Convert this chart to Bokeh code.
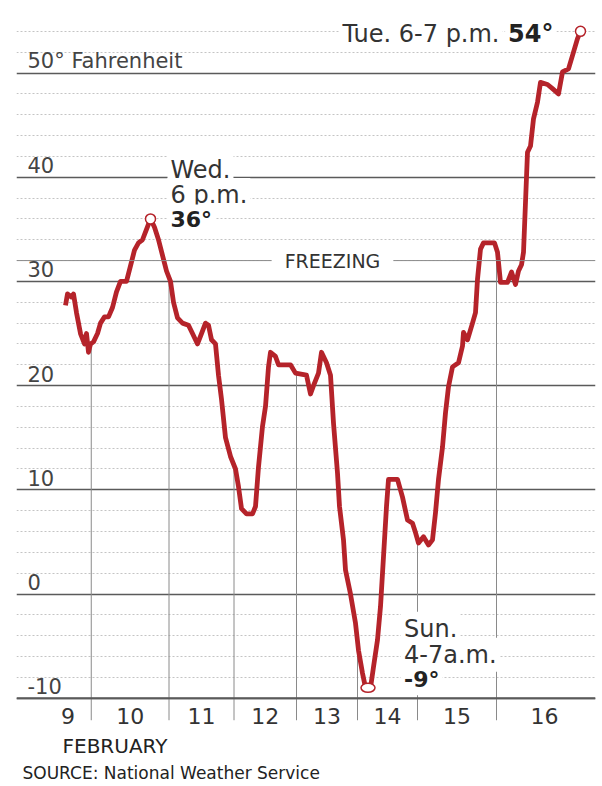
import numpy as np
from bokeh.plotting import figure
from bokeh.models import Range1d, FixedTicker, Label, Span
from bokeh.core.properties import value
from bokeh.embed import file_html
from bokeh.resources import INLINE

# ---- data -------------------------------------------------------------
# position along the sequence of hourly/special observations (Feb 9 00:00 = 0)
obs_pos = [8.3, 9.1, 10.7, 11.5, 12.7, 14.3, 15.9, 16.7, 17.5, 18.3, 19.5, 21.1,
           22.3, 23.9, 25.5, 27.1, 28.7, 30.3, 32.7, 34.3, 35.9, 37.5, 39.1, 40.7,
           42.3, 43.9, 45.5, 47.1, 48.7, 50.3, 51.5, 53.1, 55.1, 57.5, 59.1, 61.1,
           62.7, 64.3, 65.5, 66.7, 68.3, 69.5, 70.7, 72.3, 74.3, 76.3, 77.5, 78.7,
           80.7, 83.1, 84.3, 85.5, 87.1, 88.3, 89.5, 90.3, 92.3, 93.5, 98.3, 100.3,
           104.7, 106.3, 107.5, 109.5, 110.7, 112.7, 114.3, 115.5, 117.1, 117.9, 119.5, 120.3,
           122.3, 124.3, 125.5, 127.1, 128.3, 130.3, 131.5, 133.1, 134.3, 135.5, 136.7, 137.5,
           141.1, 143.1, 145.1, 147.1, 148.3, 149.5, 151.5, 153.5, 155.1, 156.3, 157.5, 159.1,
           160.3, 161.5, 163.1, 165.5, 167.1, 167.5, 169.1, 171.1, 172.3, 173.1, 174.3, 175.5,
           179.9, 181.1, 182.3, 185.1, 186.7, 188.3, 189.5, 190.7, 191.5, 192.3, 193.1, 194.3,
           195.5, 197.1, 198.3, 201.1, 203.1, 205.5, 207.1, 209.5, 211.5, 213.1, 214.3]
temps_f = [27.7, 28.8, 28.5, 28.8, 27.0, 25.0, 24.0, 25.0, 23.2, 24.0, 24.2, 25.0,
           26.0, 26.6, 26.6, 27.5, 29.0, 30.0, 30.0, 31.5, 33.0, 33.7, 34.0, 35.0,
           36.0, 35.2, 34.0, 32.5, 31.0, 30.0, 28.0, 26.5, 26.0, 25.8, 25.0, 24.0,
           25.0, 26.0, 25.8, 24.4, 24.0, 21.0, 18.7, 15.0, 13.2, 12.0, 10.3, 8.2,
           7.7, 7.7, 8.4, 12.2, 16.1, 18.0, 21.8, 23.2, 22.8, 22.0, 22.0, 21.2,
           21.0, 19.2, 20.0, 21.2, 23.2, 22.2, 21.0, 16.4, 11.6, 8.4, 5.2, 2.3,
           0.0, -2.8, -5.4, -7.6, -9.0, -9.0, -7.0, -4.4, -1.2, 3.6, 8.4, 11.0,
           11.0, 9.3, 7.1, 6.8, 5.9, 4.9, 5.5, 4.7, 5.2, 7.8, 11.0, 14.1,
           17.4, 19.9, 21.8, 22.2, 23.8, 25.1, 24.4, 26.0, 27.0, 30.2, 33.1, 33.7,
           33.7, 32.8, 29.9, 29.9, 30.9, 29.7, 31.0, 31.6, 32.8, 37.6, 42.4, 43.0,
           45.6, 47.2, 49.1, 48.9, 48.5, 48.0, 50.1, 50.4, 52.0, 53.3, 54.0]

day_edges = [0, 18.6, 49.7, 75.7, 100.7, 125.1, 149.1, 180.7, 219.1]
day_labels = ["9", "10", "11", "12", "13", "14", "15", "16"]

major_temps = [-10, 0, 10, 20, 30, 40, 50]
major_labels = ["-10", "0", "10", "20", "30", "40", "50° Fahrenheit"]
minor_temps = [-8, -6, -4, -2, 2, 4, 6, 8, 12, 14, 16, 18, 22, 24, 26, 28,
               32, 34, 36, 38, 42, 44, 46, 48, 52, 54]
freezing_f = 32

wed_pt = (42.3, 36.0)
wed_text = ["Wed.", "6 p.m.", "36°"]
sun_pt = (129.3, -9.0)
sun_text = ["Sun.", "4-7a.m.", "-9°"]
tue_pt = (214.3, 54.0)
tue_text = ["Tue. 6-7 p.m.", "54°"]

# ---- styling ------------------------------------------------------------
FONT = "DejaVu Sans"
RED = "#b5232a"
TXT = "#333333"

AXIS_T = -10                 # temperature at the chart's base line
X0, X1 = -11.3, 220.3
Y0, Y1 = -18.47, 56.0

p = figure(width=602, height=786, output_backend="svg", toolbar_location=None,
           x_range=Range1d(X0, X1), y_range=Range1d(Y0, Y1),
           min_border_left=16, min_border_right=7, min_border_top=10,
           min_border_bottom=0)
p.outline_line_color = None
p.background_fill_color = "white"
p.border_fill_color = "white"
p.xaxis.visible = False
p.yaxis.visible = False
p.xgrid.visible = False

# horizontal grid
p.ygrid.ticker = FixedTicker(ticks=major_temps, minor_ticks=minor_temps)
p.ygrid.grid_line_color = "#5a5a5a"
p.ygrid.grid_line_width = 1.4
p.ygrid.minor_grid_line_color = "#c4c4c4"
p.ygrid.minor_grid_line_dash = "2 2"
p.ygrid.minor_grid_line_width = 1
p.add_layout(Span(location=AXIS_T, dimension="width", line_color="#5a5a5a",
                  line_width=2))

# freezing line
p.add_layout(Span(location=freezing_f, dimension="width", line_color="#8a8a8a",
                  line_width=1))

# day boundaries: line from the curve down to the base, plus tick below
inner_edges = day_edges[1:-1]
tops = np.interp(inner_edges, obs_pos, temps_f)
p.segment(x0=inner_edges, y0=[AXIS_T] * len(inner_edges), x1=inner_edges, y1=tops,
          line_color="#8a8a8a", line_width=1)
p.ray(x=inner_edges, y=[AXIS_T] * len(inner_edges), length=22, length_units="screen",
      angle=-np.pi / 2, line_color="#8a8a8a", line_width=1)

# day labels
centers = [(day_edges[i] + day_edges[i + 1]) / 2 for i in range(len(day_labels))]
p.text(x=centers, y=[AXIS_T] * len(centers), text=day_labels, y_offset=18,
       text_align="center", text_baseline="middle", text_font=value(FONT),
       text_font_size="22px", text_color=TXT)

# temperature line
p.line(obs_pos, temps_f, line_color=RED, line_width=4.8, line_join="round")

# markers
p.scatter([wed_pt[0], tue_pt[0]], [wed_pt[1], tue_pt[1]], marker="circle", size=10,
          fill_color="white", line_color=RED, line_width=1.5)
p.ellipse([sun_pt[0]], [sun_pt[1]], width=14, height=9, width_units="screen",
          height_units="screen", fill_color="white", line_color=RED, line_width=1.5)

# y labels
for t, lab in zip(major_temps, major_labels):
    p.add_layout(Label(x=X0, y=t, x_offset=11, y_offset=12, text=lab,
                       text_font=FONT, text_font_size="21px", text_color="#444444",
                       text_baseline="alphabetic"))

# freezing label
p.add_layout(Label(x=X0, y=freezing_f, x_offset=316, y_offset=0, text="FREEZING",
                   text_font=FONT, text_font_size="19px", text_color=TXT,
                   text_align="center", text_baseline="middle",
                   background_fill_color="white", padding=(13, 2)))


def add_lines(pt, lines, dxs, dys, bolds, sizes, align="left"):
    for txt, dx, dy, b, s in zip(lines, dxs, dys, bolds, sizes):
        p.add_layout(Label(x=pt[0], y=pt[1], x_offset=dx, y_offset=dy, text=txt,
                           text_font=FONT, text_font_size=s,
                           text_font_style="bold" if b else "normal",
                           text_color="#222222" if b else TXT, text_align=align,
                           text_baseline="alphabetic",
                           background_fill_color="white", padding=3))


add_lines(wed_pt, wed_text, [17, 17, 17], [49, 24, -1], [False, False, True],
          ["24px", "24px", "22px"])
add_lines(sun_pt, sun_text, [33, 33, 33], [59, 33, 8], [False, False, True],
          ["24px", "24px", "22px"])
add_lines(tue_pt, tue_text, [-78, -24], [-3, -3], [False, True],
          ["24px", "24px"], align="right")

# bottom texts
p.add_layout(Label(x=X0, y=AXIS_T, x_offset=46, y_offset=-48, text="FEBRUARY",
                   text_font=FONT, text_font_size="20px", text_color="#222222",
                   text_baseline="alphabetic"))
p.add_layout(Label(x=X0, y=AXIS_T, x_offset=6, y_offset=-75,
                   text="SOURCE: National Weather Service",
                   text_font=FONT, text_font_size="17px", text_color="#222222",
                   text_baseline="alphabetic"))

open("out.html", "w").write(file_html(p, INLINE))
